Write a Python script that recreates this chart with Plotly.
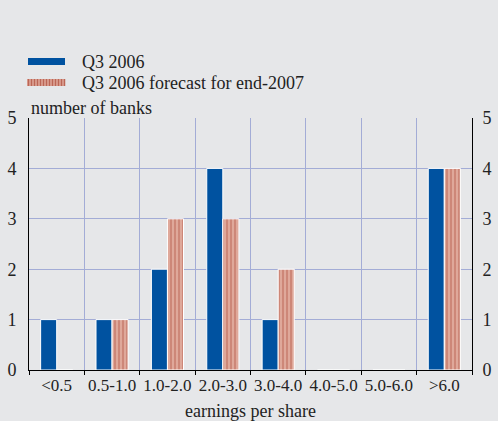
import plotly.graph_objects as go

categories = ["<0.5", "0.5-1.0", "1.0-2.0", "2.0-3.0", "3.0-4.0", "4.0-5.0", "5.0-6.0", ">6.0"]
q3_2006 = [1, 1, 2, 4, 1, 0, 0, 4]
forecast_2007 = [0, 1, 3, 3, 2, 0, 0, 4]
y_ticks = [0, 1, 2, 3, 4, 5]
series_names = ["Q3 2006", "Q3 2006 forecast for end-2007"]

x = list(range(len(categories)))
bg = "#e6e7e9"
grid = "#a3acd6"
blue = "#0052a0"
salmon = "#dfa89a"
salmon_dark = "#bb6656"
FONT = "Liberation Serif, Times New Roman, serif"
font = dict(family=FONT, size=18, color="#222222")

L, R, T, B = 29, 26, 118, 51
W, H = 498, 421
PW, PH = W - L - R, H - T - B


def px(xp):
    return (xp - L) / PW


def py(yp):
    return (H - B - yp) / PH


fig = go.Figure()
fig.add_trace(go.Bar(
    x=x, y=q3_2006, name=series_names[0],
    marker=dict(color=blue, line=dict(color="white", width=1)),
))
fig.add_trace(go.Bar(
    x=x, y=forecast_2007, name=series_names[1],
    marker=dict(color=salmon, line=dict(color="white", width=1),
                pattern=dict(shape="|", fgcolor=salmon_dark, bgcolor=salmon, size=4, solidity=0.5)),
))
fig.add_trace(go.Scatter(x=[0], y=[0], yaxis="y2", mode="markers",
                         marker=dict(opacity=0), showlegend=False, hoverinfo="skip"))

# legend swatches (decoration)
shapes = [
    dict(type="rect", xref="paper", yref="paper", x0=px(28), x1=px(65), y0=py(58), y1=py(65),
         fillcolor=blue, line=dict(width=0)),
    dict(type="rect", xref="paper", yref="paper", x0=px(27), x1=px(65), y0=py(79), y1=py(86),
         fillcolor=salmon, line=dict(width=0)),
]
xs = 28.5
while xs < 65:
    shapes.append(dict(type="line", xref="paper", yref="paper", x0=px(xs), x1=px(xs),
                       y0=py(79), y1=py(86), line=dict(color=salmon_dark, width=1.5)))
    xs += 3

annotations = [
    dict(text=series_names[0], x=px(80), y=py(62), xref="paper", yref="paper",
         xanchor="left", yanchor="middle", showarrow=False, font=font),
    dict(text=series_names[1], x=px(80), y=py(83), xref="paper", yref="paper",
         xanchor="left", yanchor="middle", showarrow=False, font=font),
    dict(text="number of banks", x=px(29), y=py(108), xref="paper", yref="paper",
         xanchor="left", yanchor="middle", showarrow=False, font=font),
]

fig.update_layout(
    width=W, height=H,
    paper_bgcolor=bg, plot_bgcolor=bg,
    font=font,
    barmode="group", bargap=0.42, bargroupgap=0,
    margin=dict(l=L, r=R, t=T, b=B, autoexpand=False),
    showlegend=False,
    shapes=shapes,
    annotations=annotations,
    xaxis=dict(
        range=[-0.5, 7.5], tickmode="array", tickvals=x, ticktext=categories,
        ticks="", showgrid=False, showline=True, linecolor="black", linewidth=1,
        zeroline=False, automargin=False, tickfont=dict(size=17),
        minor=dict(tickmode="array", tickvals=[i + 0.5 for i in range(-1, 8)],
                   showgrid=True, gridcolor=grid, gridwidth=1,
                   ticks="outside", ticklen=4, tickcolor="black"),
        title=dict(text="earnings per share", standoff=11, font=dict(size=18)),
        fixedrange=True,
    ),
    yaxis=dict(
        range=[0, 5], tickvals=y_ticks, showgrid=True, gridcolor=grid, gridwidth=1,
        showline=True, linecolor="black", linewidth=1, ticks="", zeroline=False,
        ticklabelstandoff=8, automargin=False,
    ),
    yaxis2=dict(
        range=[0, 5], tickvals=y_ticks, overlaying="y", side="right", showgrid=False,
        showline=True, linecolor="black", linewidth=1, ticks="", zeroline=False,
        ticklabelstandoff=6, automargin=False,
    ),
)

fig.write_html("out.html", config={"displayModeBar": False},
               post_script="document.body.style.margin='0';document.body.style.background='%s';" % bg)
